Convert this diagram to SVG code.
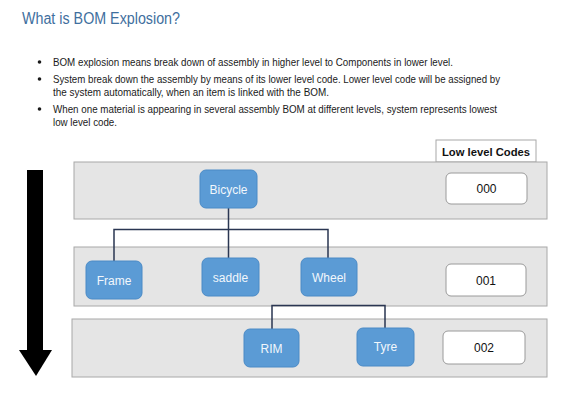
<svg xmlns="http://www.w3.org/2000/svg" width="565" height="400" viewBox="0 0 565 400">
<style>
text{font-family:"Liberation Sans",Arial,sans-serif}
.title{font-size:16px;fill:#3f6f9e}
.body{font-size:10.5px;fill:#1a1a1a}
.band{fill:#e5e5e5;stroke:#a8a8a8;stroke-width:1}
.node rect{fill:#5b9bd5;stroke:#4a8ac6;stroke-width:1}
.node text{font-size:12px;fill:#f2f7fc;text-anchor:middle}
.code rect{fill:#ffffff;stroke:#9a9a9a;stroke-width:1}
.code text{font-size:12px;fill:#111;text-anchor:middle}
.conn{fill:none;stroke:#2a3652;stroke-width:1.5}
</style>
<rect width="565" height="400" fill="#ffffff"/>
<text class="title" x="22" y="24" textLength="158" lengthAdjust="spacingAndGlyphs">What is BOM Explosion?</text>
<g class="body">
<circle cx="39.5" cy="62" r="1.8" fill="#1a1a1a"/>
<circle cx="39.5" cy="79" r="1.8" fill="#1a1a1a"/>
<circle cx="39.5" cy="109" r="1.8" fill="#1a1a1a"/>
<text class="body" x="53" y="65.5" textLength="400" lengthAdjust="spacingAndGlyphs">BOM explosion means break down of assembly in higher level to Components in lower level.</text>
<text class="body" x="53" y="82.5" textLength="447" lengthAdjust="spacingAndGlyphs">System break down the assembly by means of its lower level code. Lower level code will be assigned by</text>
<text class="body" x="53" y="96" textLength="276" lengthAdjust="spacingAndGlyphs">the system automatically, when an item is linked with the BOM.</text>
<text class="body" x="53" y="112.5" textLength="444" lengthAdjust="spacingAndGlyphs">When one material is appearing in several assembly BOM at different levels, system represents lowest</text>
<text class="body" x="53" y="126" textLength="64" lengthAdjust="spacingAndGlyphs">low level code.</text>
</g>
<g id="header">
<rect x="436" y="140" width="100" height="22" fill="#ffffff" stroke="#a8a8a8"/>
<text x="486" y="155.5" font-size="11" font-weight="bold" fill="#111" text-anchor="middle" textLength="88" lengthAdjust="spacingAndGlyphs">Low level Codes</text>
</g>
<g id="arrow">
<rect x="27" y="170" width="16" height="181" fill="#000"/>
<polygon points="19,350 52,350 36,376" fill="#000"/>
</g>
<g id="bands">
<rect class="band" x="74" y="162" width="473" height="57"/>
<rect class="band" x="74" y="247" width="473" height="59"/>
<rect class="band" x="72" y="319" width="475" height="58"/>
</g>
<g id="connectors">
<path class="conn" d="M228.5,208 V229.5 M114,261 V229.5 H328 V258 M228.5,229.5 V258"/>
<path class="conn" d="M272,329 V305.5 H385 V328"/>
</g>
<g id="bicycle" class="node"><rect x="200" y="170" width="57" height="38" rx="6"/><text x="228.5" y="193.5">Bicycle</text></g>
<g id="frame" class="node"><rect x="86" y="261" width="56" height="38" rx="6"/><text x="114" y="284.5">Frame</text></g>
<g id="saddle" class="node"><rect x="202" y="258" width="57" height="38" rx="6"/><text x="230.5" y="281.5">saddle</text></g>
<g id="wheel" class="node"><rect x="301" y="258" width="56" height="38" rx="6"/><text x="329" y="281.5">Wheel</text></g>
<g id="rim" class="node"><rect x="244" y="329" width="55" height="38" rx="6"/><text x="271.5" y="352.5">RIM</text></g>
<g id="tyre" class="node"><rect x="357" y="328" width="57" height="38" rx="6"/><text x="385.5" y="350.5">Tyre</text></g>
<g id="code000" class="code"><rect x="446" y="173" width="81" height="31" rx="5"/><text x="486.5" y="193">000</text></g>
<g id="code001" class="code"><rect x="446" y="264" width="80" height="32" rx="5"/><text x="486" y="284.5">001</text></g>
<g id="code002" class="code"><rect x="443" y="331" width="82" height="33" rx="5"/><text x="484" y="352">002</text></g>
</svg>
